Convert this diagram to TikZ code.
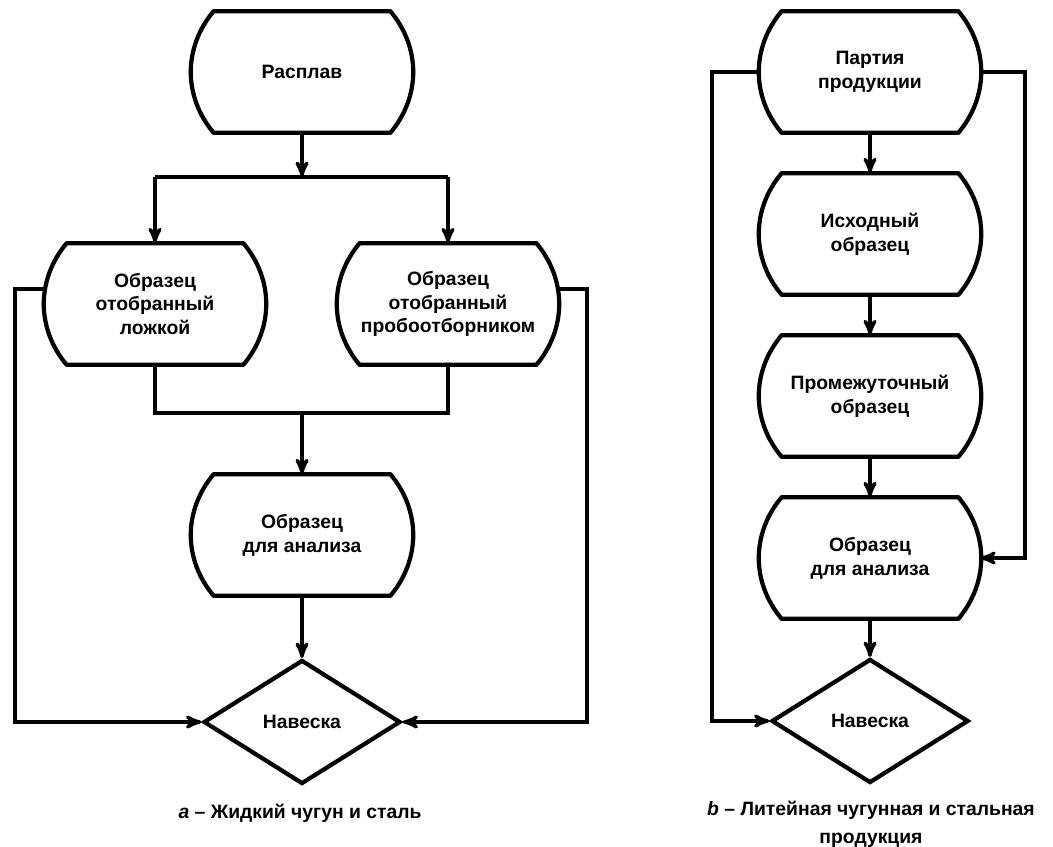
\documentclass[tikz,border=0pt]{standalone}
\usepackage{fontspec}
\setmainfont{Liberation Sans}
\usetikzlibrary{shapes.geometric,arrows}
\tikzset{
        >=stealth', % small filled arrow heads
        line/.style={line width=1.9pt}, % connectors
        sample/.style={minimum width=4.4cm, minimum height=2.42cm, inner sep=1pt, align=center,
          font=\fontsize{11}{13.5}\selectfont\bfseries}, % node is as wide as the bulging sides
        weigh/.style={diamond, draw, line width=2.4pt, minimum width=3.94cm, minimum height=2.48cm,
          inner sep=0pt, aspect=1.6, font=\fontsize{11}{13.5}\selectfont\bfseries},
        caption/.style={align=center, font=\fontsize{11}{16}\selectfont\bfseries},
}
\begin{document}
\begin{tikzpicture}
\useasboundingbox (0,0) rectangle (21.06,-16.94);
% a - liquid iron and steel
\node[sample] (melt) at (6.04,-1.44) {Расплав};
\node[sample] (spoon) at (3.10,-6.08) {Образец\\отобранный\\ложкой};
\node[sample] (probe) at (8.96,-6.08) {Образец\\отобранный\\пробоотборником};
\node[sample] (anl) at (6.04,-10.70) {Образец\\для анализа};
\node[weigh] (wl) at (6.04,-14.44) {Навеска};
\node[caption] (capa) at (6.0,-16.26) {\textit{a} – Жидкий чугун и сталь};
% b - cast products
\node[sample] (lot) at (17.40,-1.44) {Партия\\продукции};
\node[sample] (init) at (17.40,-4.68) {Исходный\\образец};
\node[sample] (inter) at (17.40,-7.92) {Промежуточный\\образец};
\node[sample] (anr) at (17.40,-11.16) {Образец\\для анализа};
\node[weigh] (wr) at (17.40,-14.42) {Навеска};
\node[caption] (capb) at (17.42,-16.48) {\textit{b} – Литейная чугунная и стальная\\продукция};

% outlines: flat top and bottom, bulging sides
\foreach \n in {melt,spoon,probe,anl,lot,init,inter,anr}
  \draw[line width=2.4pt, line join=round] ([xshift=0.44cm]\n.north west) -- ([xshift=-0.44cm]\n.north east)
    to[bend left=40] ([xshift=-0.44cm]\n.south east) -- ([xshift=0.44cm]\n.south west)
    to[bend left=40] ([xshift=0.44cm]\n.north west) -- cycle;

\coordinate (split) at (6.04,-3.54);
\coordinate (merge) at (6.04,-8.26);
\coordinate (fl) at (0.30,-5.78);
\coordinate (fr) at (11.74,-5.78);
\draw[line,->] (melt) -- (split);
\draw[line] (split -| spoon) -- (split -| probe);
\foreach \n in {spoon,probe}
  \draw[line,->] (split -| \n) -- (\n);
\draw[line] (spoon) -- (merge -| spoon) -- (merge -| probe) -- (probe);
\draw[line,->] (merge) -- (anl);
\draw[line,->] (anl) -- (wl);
\draw[line,->] ([yshift=0.3cm]spoon.west) -- (fl) |- (wl.west);
\draw[line,->] ([yshift=0.3cm]probe.east) -- (fr) |- (wl.east);

\coordinate (gl) at (14.24,-1.44);
\coordinate (gr) at (20.50,-1.44);
\foreach \a/\b in {lot/init,init/inter,inter/anr,anr/wr}
  \draw[line,->] (\a) -- (\b);
\draw[line,->] (lot.west) -- (gl) |- (wr.west);
\draw[line,->] (lot.east) -- (gr) |- (anr.east);
\end{tikzpicture}
\end{document}
